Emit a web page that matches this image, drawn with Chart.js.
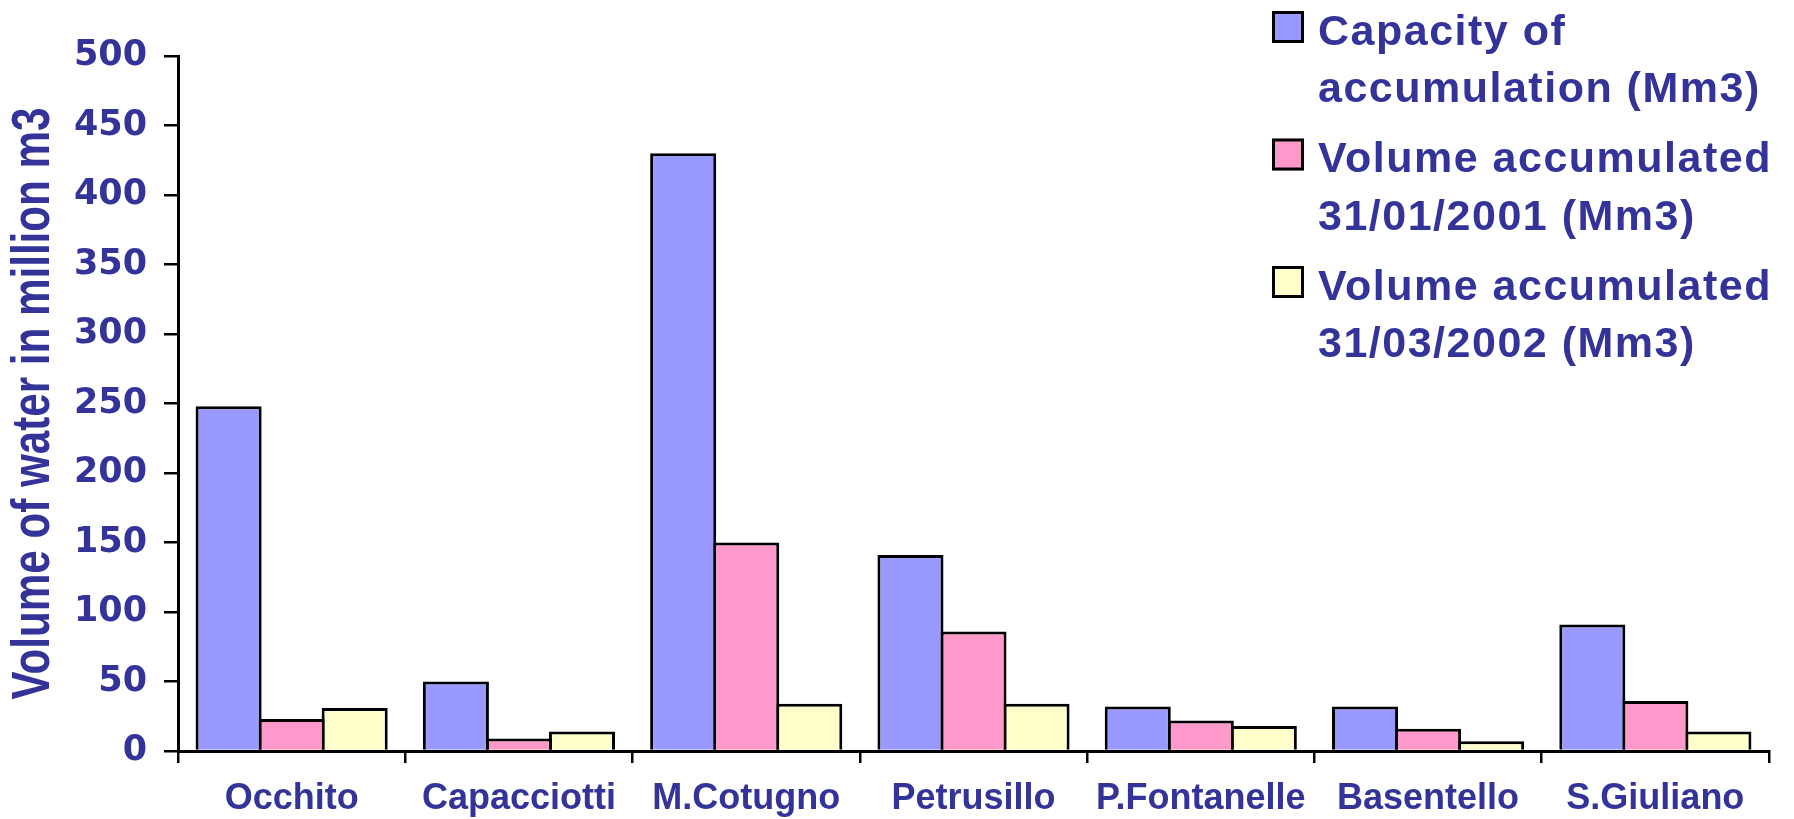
<!DOCTYPE html>
<html>
<head>
<meta charset="utf-8">
<title>Reservoir volumes</title>
<script src="https://cdn.jsdelivr.net/npm/chart.js@4/dist/chart.umd.min.js"></script>
<style>
  html, body { margin: 0; padding: 0; background: #ffffff; }
  canvas { display: block; }
</style>
</head>
<body>
<canvas id="chart" width="1794" height="819"></canvas>
<script>
// Reservoirs and their volumes, in million m3
const categories = ['Occhito', 'Capacciotti', 'M.Cotugno', 'Petrusillo', 'P.Fontanelle', 'Basentello', 'S.Giuliano'];
const capacity   = [248, 50, 430, 141, 32, 32, 91];
const volume2001 = [23, 9, 150, 86, 22, 16, 36];
const volume2002 = [31, 14, 34, 34, 18, 7, 14];

// Series names, split over two lines in the key
const capacityLabel = ['Capacity of', 'accumulation (Mm3)'];
const volume2001Label = ['Volume accumulated', '31/01/2001 (Mm3)'];
const volume2002Label = ['Volume accumulated', '31/03/2002 (Mm3)'];

// Value axis
const yMin = 0;
const yMax = 500;
const yStep = 50;
const yTitle = 'Volume of water in million m3';

const TEXT_COLOR = '#333399';

// Rotated, narrow axis title on the left
const axisTitlePlugin = {
  id: 'axisTitle',
  afterDraw(chart) {
    const { ctx, chartArea } = chart;
    const cy = (chartArea.top + chartArea.bottom) / 2;
    ctx.save();
    ctx.font = 'bold 54px "Liberation Sans", Arial, sans-serif';
    ctx.fillStyle = TEXT_COLOR;
    ctx.textAlign = 'center';
    ctx.textBaseline = 'middle';
    const w = ctx.measureText(yTitle).width;
    const targetLen = 592;
    ctx.translate(34, cy);
    ctx.rotate(-Math.PI / 2);
    ctx.scale(targetLen / w, 1);
    ctx.fillText(yTitle, 0, 0);
    ctx.restore();
  }
};

// Key in the top-right corner, laid over the plot
const keyPlugin = {
  id: 'cornerKey',
  afterDraw(chart) {
    const { ctx } = chart;
    const boxX = 1272, boxSize = 32, textX = 1318;
    const firstLine = 31, lineGap = 57.5, itemGap = 127.5;
    ctx.save();
    ctx.font = 'bold 43px "Liberation Sans", Arial, sans-serif';
    ctx.textAlign = 'left';
    ctx.textBaseline = 'middle';
    if ('letterSpacing' in ctx) ctx.letterSpacing = '1.5px';
    chart.data.datasets.forEach((ds, i) => {
      const y0 = firstLine + i * itemGap;
      const by = y0 - 4 - boxSize / 2;
      ctx.fillStyle = ds.backgroundColor;
      ctx.fillRect(boxX, by, boxSize, boxSize);
      ctx.lineWidth = 3;
      ctx.strokeStyle = '#000000';
      ctx.strokeRect(boxX + 1.5, by + 1.5, boxSize - 3, boxSize - 3);
      ctx.fillStyle = TEXT_COLOR;
      ds.label.forEach((line, j) => {
        ctx.fillText(line, textX, y0 + j * lineGap + 2);
      });
    });
    ctx.restore();
  }
};

const barStyle = {
  borderColor: '#000000',
  borderWidth: 3,
  borderSkipped: 'bottom',
  categoryPercentage: 0.832,
  barPercentage: 1.048
};

new Chart(document.getElementById('chart'), {
  type: 'bar',
  data: {
    labels: categories,
    datasets: [
      Object.assign({ label: capacityLabel, data: capacity, backgroundColor: '#9999FF' }, barStyle),
      Object.assign({ label: volume2001Label, data: volume2001, backgroundColor: '#FF99CC' }, barStyle),
      Object.assign({ label: volume2002Label, data: volume2002, backgroundColor: '#FFFFCC' }, barStyle)
    ]
  },
  options: {
    responsive: false,
    devicePixelRatio: 1,
    animation: false,
    layout: { padding: { top: 56, right: 25, left: 0, bottom: 0 } },
    plugins: {
      legend: { display: false },
      tooltip: { enabled: false }
    },
    scales: {
      x: {
        grid: {
          offset: true,
          drawOnChartArea: false,
          drawTicks: true,
          tickLength: 12,
          color: '#000000',
          lineWidth: 2.5
        },
        border: { color: '#000000', width: 3 },
        ticks: {
          color: TEXT_COLOR,
          font: { family: '"Liberation Sans", Arial, sans-serif', weight: 'bold', size: 36 },
          padding: 14,
          maxRotation: 0,
          autoSkip: false
        },
        afterFit(scale) { scale.height = 68; }
      },
      y: {
        min: yMin,
        max: yMax,
        grid: {
          drawOnChartArea: false,
          drawTicks: true,
          tickLength: 14,
          color: '#000000',
          lineWidth: 2.5
        },
        border: { color: '#000000', width: 3 },
        ticks: {
          stepSize: yStep,
          color: TEXT_COLOR,
          font: { family: '"DejaVu Sans", Verdana, sans-serif', weight: 'bold', size: 35 },
          padding: 17
        },
        afterFit(scale) { scale.width = 178; }
      }
    }
  },
  plugins: [axisTitlePlugin, keyPlugin]
});
</script>
</body>
</html>
